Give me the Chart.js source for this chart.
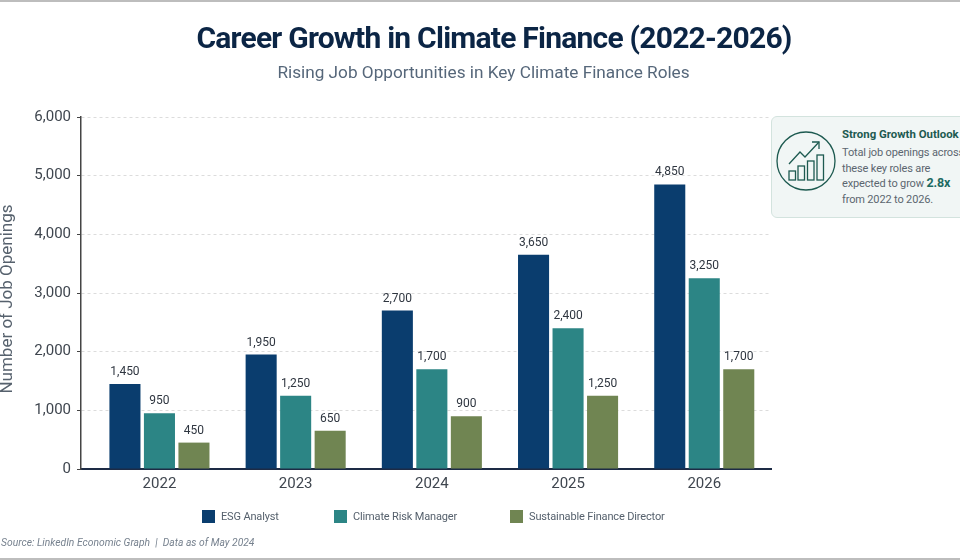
<!DOCTYPE html>
<html>
<head>
<meta charset="utf-8">
<title>Career Growth in Climate Finance</title>
<script src="https://cdn.jsdelivr.net/npm/chart.js@4"></script>
<style>
  html, body { margin: 0; padding: 0; background: #fff; }
  body { font-family: Roboto, sans-serif; }
  .page { position: relative; width: 960px; height: 560px; overflow: hidden; border-top: 2px solid #bdbdbd; border-bottom: 2px solid #bdbdbd; box-sizing: border-box; }
  canvas { position: absolute; left: 0; top: -2px; }
  .title { position: absolute; left: 0; width: 988px; top: 18px; text-align: center; font-size: 30px; font-weight: 700; letter-spacing: -0.77px; color: #0b2545; white-space: nowrap; }
  .subtitle { position: absolute; left: 0; width: 967px; top: 60px; text-align: center; font-size: 17.2px; color: #56677a; white-space: nowrap; }
  .legend-item { position: absolute; top: 508px; display: flex; align-items: center; font-size: 11px; letter-spacing: -0.15px; color: #56616d; white-space: nowrap; }
  .legend-item i { display: block; width: 13px; height: 13px; margin-right: 6px; }
  .source { position: absolute; left: 1px; top: 534px; font-size: 10.3px; font-style: italic; color: #77828f; white-space: nowrap; }
  .callout { position: absolute; left: 771px; top: 114px; width: 220px; height: 102px; box-sizing: border-box; background: #f1f6f5; border: 1px solid #d3e3de; border-radius: 6px; }
  .callout svg { position: absolute; left: 3px; top: 12px; }
  .callout h4 { position: absolute; left: 70px; top: 10px; margin: 0; font-size: 11.4px; font-weight: 700; color: #1d5a50; white-space: nowrap; }
  .callout p { position: absolute; left: 70px; top: 28px; margin: 0; font-size: 11px; line-height: 15.6px; letter-spacing: -0.15px; color: #5c6670; white-space: nowrap; }
  .callout b { font-size: 12.5px; line-height: 1; color: #1d6a62; }
</style>
</head>
<body>
<div class="page">
  <canvas id="jobsChart" width="960" height="560"></canvas>
  <div class="title">Career Growth in Climate Finance (2022-2026)</div>
  <div class="subtitle">Rising Job Opportunities in Key Climate Finance Roles</div>
  <div id="legend"></div>
  <div class="source">Source: LinkedIn Economic Graph &nbsp;|&nbsp; Data as of May 2024</div>
  <div class="callout">
    <svg width="64" height="64" viewBox="0 0 64 64" fill="none" stroke="#1d5a50" stroke-width="1.3">
      <circle cx="31" cy="32" r="29"/>
      <rect x="14" y="42" width="6.5" height="9"/>
      <rect x="23" y="37" width="6.5" height="14"/>
      <rect x="32.5" y="32" width="6.5" height="19"/>
      <rect x="42" y="26" width="6.5" height="25"/>
      <path d="M14 35 L25 23 L30 28 L44 13"/>
      <path d="M37 13 L44 13 L44 20"/>
    </svg>
    <h4>Strong Growth Outlook</h4>
    <p>Total job openings across<br>these key roles are<br>expected to grow <b>2.8x</b><br>from 2022 to 2026.</p>
  </div>
</div>

<script>
const categories = [2022, 2023, 2024, 2025, 2026];
const seriesNames = ['ESG Analyst', 'Climate Risk Manager', 'Sustainable Finance Director'];
const esgAnalyst = [1450, 1950, 2700, 3650, 4850];
const climateRiskManager = [950, 1250, 1700, 2400, 3250];
const sustainableFinanceDirector = [450, 650, 900, 1250, 1700];
const seriesColors = ['#0a3d6e', '#2c8585', '#708552'];
const legendLefts = [202, 334, 510];

const fmt = (v) => v.toLocaleString('en-US');

Chart.defaults.font.family = 'Roboto';

// value labels above each bar, plus the y axis title which sits a little below the axis centre
const chartText = {
  id: 'chartText',
  afterDatasetsDraw(chart) {
    const { ctx } = chart;
    ctx.save();
    ctx.font = '12px Roboto';
    ctx.fillStyle = '#2f3640';
    ctx.textAlign = 'center';
    ctx.textBaseline = 'middle';
    chart.data.datasets.forEach((ds, i) => {
      chart.getDatasetMeta(i).data.forEach((bar, j) => {
        ctx.fillText(fmt(ds.data[j]), bar.x, bar.y - 12);
      });
    });
    ctx.translate(8, 299);
    ctx.rotate(-Math.PI / 2);
    ctx.font = '17px Roboto';
    ctx.fillStyle = '#56616d';
    ctx.fillText('Number of Job Openings', 0, 0);
    ctx.restore();
  },
};

function initLegend() {
  const box = document.getElementById('legend');
  seriesNames.forEach((name, i) => {
    const item = document.createElement('div');
    item.className = 'legend-item';
    item.style.left = `${legendLefts[i]}px`;
    item.innerHTML = `<i style="background:${seriesColors[i]}"></i>${name}`;
    box.appendChild(item);
  });
}

function initChart() {
  const ctx = document.getElementById('jobsChart');
  return new Chart(ctx, {
    type: 'bar',
    data: {
      labels: categories,
      datasets: [esgAnalyst, climateRiskManager, sustainableFinanceDirector].map((values, i) => ({
        label: seriesNames[i],
        data: values,
        backgroundColor: seriesColors[i],
        categoryPercentage: 0.76,
        barPercentage: 0.9,
      })),
    },
    options: {
      responsive: false,
      animation: false,
      layout: { padding: { top: 117, right: 189, bottom: 0, left: 0 } },
      plugins: { legend: { display: false }, tooltip: { enabled: false } },
      scales: {
        x: {
          type: 'linear',
          offset: false,
          // linear so the years can sit 136px apart with uneven margins at the ends
          min: 2021.424,
          max: 2026.49,
          afterBuildTicks(axis) {
            axis.ticks = categories.map((value) => ({ value }));
          },
          afterFit(axis) { axis.height = 91; },
          grid: { display: false, drawTicks: false },
          border: { color: '#1d2b45', width: 2 },
          ticks: {
            font: { size: 15 },
            color: '#3f464f',
            padding: 6,
            maxRotation: 0,
            callback: (v) => String(v),
          },
        },
        y: {
          min: 0,
          max: 6000,
          afterFit(axis) { axis.width = 81; },
          grid: {
            color: '#dcdcdc',
            tickColor: '#444',
            tickBorderDash: [],
            tickLength: 4,
          },
          border: { color: '#444', width: 1.5, dash: [3, 3] },
          ticks: {
            stepSize: 1000,
            font: { size: 15 },
            color: '#3f464f',
            padding: 6,
            callback: (v) => fmt(v),
          },
        },
      },
    },
    plugins: [chartText],
  });
}

document.addEventListener('DOMContentLoaded', () => {
  initLegend();
  initChart();
});
</script>
</body>
</html>
